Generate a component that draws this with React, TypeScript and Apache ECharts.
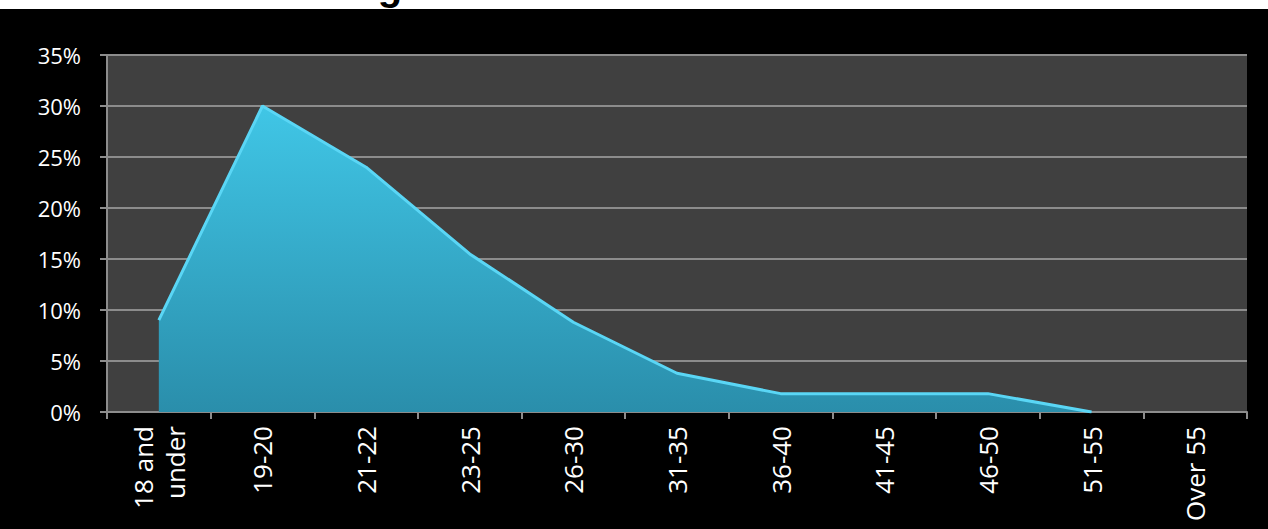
import React, { useEffect, useRef } from "react";
import * as echarts from "echarts";

const titleText = "Age Distribution of Students";
const categories = ["18 and\nunder", "19-20", "21-22", "23-25", "26-30", "31-35", "36-40", "41-45", "46-50", "51-55", "Over 55"];
const shares = [9, 30, 24, 15.5, 8.8, 3.8, 1.8, 1.8, 1.8, 0, null];
const yTicks = [0, 5, 10, 15, 20, 25, 30, 35];

export default function App() {
  const ref = useRef<HTMLDivElement>(null);
  useEffect(() => {
    document.body.style.margin = "0";
    const chart = echarts.init(ref.current!, null, { renderer: "svg" });
    const font = "'Open Sans', 'Noto Sans', sans-serif";
    chart.setOption({
      animation: false,
      backgroundColor: "#000000",
      graphic: [
        { type: "rect", shape: { x: 0, y: 0, width: 1268, height: 9 }, style: { fill: "#ffffff" }, z: 10 },
        {
          type: "text",
          x: 620,
          y: -14,
          z: 11,
          style: {
            text: titleText,
            fill: "#000000",
            font: "bold 40px 'Liberation Sans', Arial, sans-serif",
            align: "center",
            verticalAlign: "middle",
            textAlign: "center",
            textVerticalAlign: "middle",
          },
        },
      ],
      grid: {
        left: 107,
        right: 21,
        top: 55,
        bottom: 117,
        show: true,
        backgroundColor: "#404040",
        borderWidth: 0,
      },
      xAxis: {
        type: "category",
        data: categories,
        boundaryGap: true,
        axisLine: { lineStyle: { color: "#8c8c8c", width: 2 } },
        axisTick: { show: true, length: 7, lineStyle: { color: "#8c8c8c", width: 2 } },
        axisLabel: {
          rotate: 90,
          color: "#ffffff",
          fontSize: 26,
          fontFamily: font,
          margin: 14,
          lineHeight: 32,
          interval: 0,
        },
      },
      yAxis: {
        type: "value",
        min: 0,
        max: 35,
        interval: 5,
        axisLine: { show: true, lineStyle: { color: "#8c8c8c", width: 2 } },
        axisTick: { show: true, length: 7, lineStyle: { color: "#8c8c8c", width: 2 } },
        splitLine: { lineStyle: { color: "#8c8c8c", width: 2 } },
        axisLabel: {
          color: "#ffffff",
          fontSize: 22,
          fontFamily: font,
          margin: 26,
          formatter: (v: number) => (yTicks.includes(v) ? v + "%" : ""),
        },
      },
      series: [
        {
          type: "line",
          data: shares,
          symbol: "none",
          connectNulls: false,
          lineStyle: { color: "#5ad6f5", width: 3 },
          areaStyle: {
            opacity: 1,
            color: new echarts.graphic.LinearGradient(0, 0, 0, 1, [
              { offset: 0, color: "#40c6e6" },
              { offset: 1, color: "#2a8eab" },
            ]),
          },
        },
      ],
    });
    return () => chart.dispose();
  }, []);
  return <div ref={ref} style={{ width: 1268, height: 529 }} />;
}
